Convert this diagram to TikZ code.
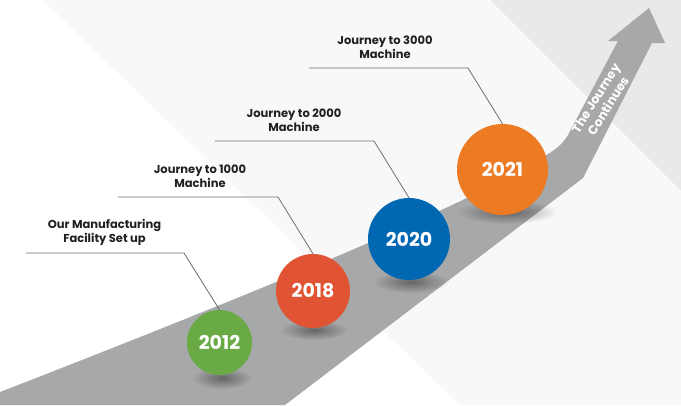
\documentclass[tikz,border=0pt]{standalone}
\usepackage{fontspec}
\setmainfont{Poppins}
\usetikzlibrary{fadings}
\definecolor{road}{HTML}{A7A8AA}
\definecolor{bggray}{HTML}{E9E9EA}
\definecolor{stripe}{HTML}{F8F8F8}
\definecolor{cgreen}{HTML}{6AAA45}
\definecolor{cred}{HTML}{E05433}
\definecolor{cblue}{HTML}{0068B3}
\definecolor{corange}{HTML}{EC7B24}
\definecolor{conncol}{HTML}{6D6E70}
\definecolor{txt}{HTML}{231F20}
\tikzfading[name=softfade, inner color=transparent!0, outer color=transparent!100]
\begin{document}
\begin{tikzpicture}[x=1pt,y=-1pt,
  yearball/.style={circle, inner sep=0pt, text=white,
    font=\bfseries\fontsize{19}{22}\selectfont},
  conn/.style={draw=conncol, line width=0.8pt},
  lbl/.style={align=center, text=txt, inner sep=0pt,
    font=\bfseries\fontsize{11.5}{14}\selectfont},
  arrowtxt/.style={align=center, text=white, inner sep=0pt,
    font=\bfseries\fontsize{12.5}{14.5}\selectfont},
  shadowblob/.style={fill=black, fill opacity=0.4, path fading=softfade}]
\useasboundingbox (0,0) rectangle (681,405);
\fill[white] (0,0) rectangle (681,405);
% faint background stripes
\fill[stripe] (43,0) -- (490,0) -- (681,191) -- (681,405) -- (460,405) -- cycle;
\fill[bggray] (490,0) -- (681,0) -- (681,191) -- cycle;
% road with arrow
\fill[road] (0,392) .. controls (250,295) and (470,205) .. (548,154)
  .. controls (558,148) and (563,143) .. (568,135) -- (618,41) -- (608,41)
  -- (649,8) -- (665,43) -- (652,43) -- (583,178) -- (285,405) -- (0,405) -- cycle;
% shadows
\fill[shadowblob] (222,378) ellipse [x radius=30, y radius=11];
\fill[shadowblob] (314,330) ellipse [x radius=34, y radius=10];
\fill[shadowblob] (411,282) ellipse [x radius=38, y radius=11];
\fill[shadowblob] (507,212) ellipse [x radius=50, y radius=12];
% circles
\node[yearball, fill=cgreen, minimum size=65] (c2012) at (219.5,342.5) {2012};
\node[yearball, fill=cred, minimum size=74] (c2018) at (313,291) {2018};
\node[yearball, fill=cblue, minimum size=82] (c2020) at (409,239) {2020};
\node[yearball, fill=corange, minimum size=91] (c2021) at (502.5,169.5) {2021};
% connectors
\coordinate (a1) at (26,253);  \coordinate (b1) at (184,253);
\coordinate (a2) at (118,197); \coordinate (b2) at (278,197);
\coordinate (a3) at (215,141); \coordinate (b3) at (374,141);
\coordinate (a4) at (309,68);  \coordinate (b4) at (468,68);
\draw[conn] (a1) -- (b1) -- (c2012.north);
\draw[conn] (a2) -- (b2) -- (c2018.north);
\draw[conn] (a3) -- (b3) -- (c2020.north);
\draw[conn] (a4) -- (b4) -- (c2021.north);
% labels
\node[lbl] (t1) at (104.5,232) {Our Manufacturing\\Facility Set up};
\node[lbl] (t2) at (200,176) {Journey to 1000\\Machine};
\node[lbl] (t3) at (294,120) {Journey to 2000\\Machine};
\node[lbl] (t4) at (385,47) {Journey to 3000\\Machine};
\node[arrowtxt, rotate=58] (tj) at (602,102) {The Journey\\Continues};
\end{tikzpicture}
\end{document}
